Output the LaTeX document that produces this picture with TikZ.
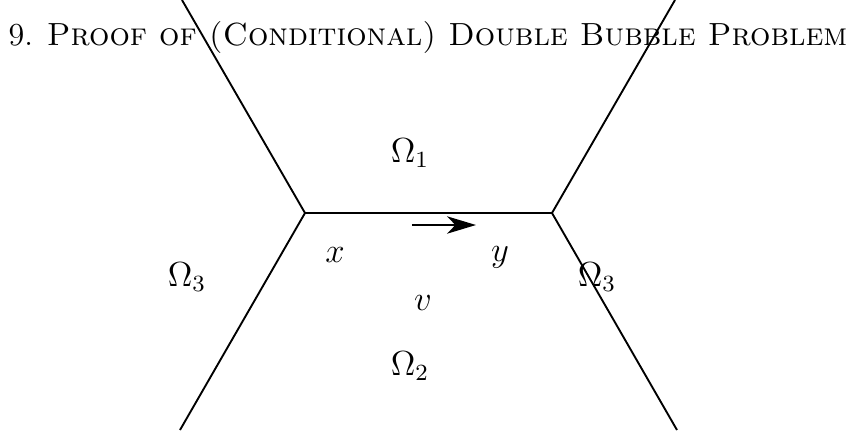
\documentclass[tikz,border=0pt]{standalone}
\usepackage{amsmath,amssymb}
\usepackage{tikz}
\usetikzlibrary{arrows.meta,positioning}

\begin{document}
\begin{tikzpicture}[x=0.345pt,y=-0.345pt,
  edge/.style={line width=0.65pt},
  arr/.style={-{Stealth[length=3.5mm,width=2.1mm,inset=1mm]},line width=0.65pt},
  lbl/.style={inner sep=0pt,font=\large}]
\useasboundingbox (0,0) rectangle (850,430);
% title
\node[anchor=base west,inner sep=0pt,font=\fontsize{11.05}{13}\selectfont] (title) at (8,45)
  {9. \textsc{Proof of (Conditional) Double Bubble Problem}};
% vertices and ends (edges meet at 120 degrees)
\coordinate (vx) at (305,213);
\coordinate (vy) at (552,213);
\coordinate (ul) at (182,0);
\coordinate (ll) at (180,430);
\coordinate (ur) at (675,0);
\coordinate (lr) at (677,430);
\draw[edge] (ul) -- (vx) -- (ll);
\draw[edge] (ur) -- (vy) -- (lr);
\draw[edge] (vx) -- (vy);
\coordinate (a1) at (412,225);
\coordinate (a2) at (476,225);
\draw[arr] (a1) -- (a2);
% labels
\node[lbl] (om1) at (410,153) {$\Omega_1$};
\node[lbl] (om3l) at (187,277) {$\Omega_3$};
\node[lbl] (om3r) at (597,277) {$\Omega_3$};
\node[lbl] (om2) at (410,366) {$\Omega_2$};
\node[lbl] (lx) at (335,255) {$x$};
\node[lbl] (ly) at (500,257) {$y$};
\node[lbl] (lv) at (423,303) {$v$};
\end{tikzpicture}
\end{document}
